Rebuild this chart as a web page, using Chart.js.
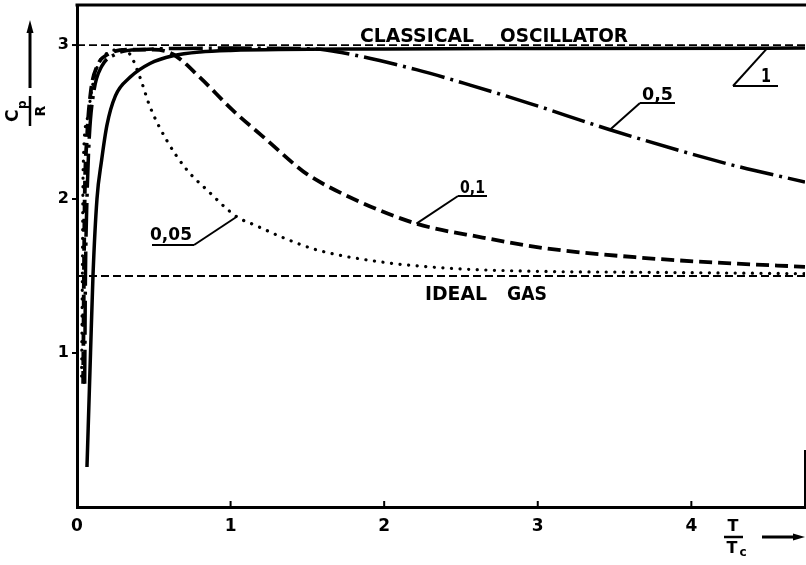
<!DOCTYPE html>
<html>
<head>
<meta charset="utf-8">
<script src="https://cdn.jsdelivr.net/npm/chart.js@4.4.1/dist/chart.umd.min.js"></script>
<style>
  html, body { margin: 0; padding: 0; background: #fff; }
  canvas { display: block; }
</style>
</head>
<body>
<canvas id="c" width="806" height="565"></canvas>
<script>
// Heat capacity Cp/R against reduced temperature T/Tc for several parameter values.
const xMax = 4.74;
const yMax = 3.26;
const xTickValues = [0, 1, 2, 3, 4];
const yTickValues = [1, 2, 3];

const classicalLevel = 3;    // classical oscillator limit
const idealGasLevel = 1.5;   // ideal gas limit

// parameter 0,05 (dotted)
const x005 = [0.03, 0.035, 0.04, 0.065, 0.1, 0.14, 0.2, 0.28, 0.345, 0.41, 0.475, 0.585, 0.715, 0.845, 1.04, 1.16, 1.34, 1.56, 1.99, 2.43, 3.03, 3.6, 4.2, 4.74];
const y005 = [0.85, 1.5, 2.19, 2.51, 2.73, 2.88, 2.95, 2.97, 2.94, 2.79, 2.60, 2.38, 2.19, 2.06, 1.885, 1.83, 1.75, 1.67, 1.59, 1.55, 1.53, 1.525, 1.52, 1.515];

// parameter 0,1 (dashed)
const x01 = [0.04, 0.045, 0.05, 0.065, 0.09, 0.13, 0.2, 0.35, 0.5, 0.625, 0.8, 1.01, 1.24, 1.41, 1.5, 1.78, 2.21, 2.64, 3.05, 3.66, 4.2, 4.74];
const y01 = [0.8, 1.5, 2.0, 2.4, 2.7, 2.86, 2.94, 2.97, 2.97, 2.94, 2.79, 2.58, 2.38, 2.23, 2.16, 2.01, 1.84, 1.75, 1.68, 1.62, 1.585, 1.56];

// parameter 0,5 (dash-dot)
const x05 = [0.05, 0.055, 0.065, 0.08, 0.11, 0.16, 0.25, 0.4, 1.0, 1.55, 1.73, 2.21, 2.56, 2.95, 3.47, 4.23, 4.74];
const y05 = [0.8, 1.5, 2.0, 2.4, 2.7, 2.86, 2.94, 2.97, 2.98, 2.975, 2.95, 2.84, 2.74, 2.62, 2.45, 2.23, 2.11];

// parameter 1 (solid)
const x1 = [0.065, 0.088, 0.104, 0.13, 0.16, 0.195, 0.25, 0.345, 0.475, 0.625, 0.8, 1.0, 2.0, 3.0, 4.74];
const y1 = [0.26, 1.0, 1.5, 2.0, 2.25, 2.48, 2.67, 2.79, 2.88, 2.93, 2.955, 2.965, 2.975, 2.978, 2.98];

const pts = (xs, ys) => xs.map((v, i) => ({ x: v, y: ys[i] }));
const level = v => [{ x: 0, y: v }, { x: xMax, y: v }];

const FONT = '"DejaVu Sans"';

function fitText(ctx, text, left, baseline, width, cap) {
  const size = cap / 0.73;
  ctx.font = `bold ${size}px ${FONT}`;
  const w = ctx.measureText(text).width;
  ctx.save();
  ctx.translate(left, baseline);
  ctx.scale(width / w, 1);
  ctx.textAlign = 'left';
  ctx.textBaseline = 'alphabetic';
  ctx.fillText(text, 0, 0);
  ctx.restore();
}

function seg(ctx, x0, y0, x1_, y1_) {
  ctx.beginPath();
  ctx.moveTo(x0, y0);
  ctx.lineTo(x1_, y1_);
  ctx.stroke();
}

// curve labels: text box (pixels) and the point on the curve the leader touches (data units)
const curveLabels = [
  { text: '0,05', left: 150, baseline: 240, width: 42, cap: 13, ul: [152, 194, 245], from: 'right', at: [1.04, 1.885] },
  { text: '0,1',  left: 460, baseline: 193, width: 25, cap: 13, ul: [458, 487, 196], from: 'left',  at: [2.21, 1.84] },
  { text: '0,5',  left: 642, baseline: 100, width: 31, cap: 13, ul: [640, 675, 103], from: 'left',  at: [3.47, 2.45] },
  { text: '1',    left: 761, baseline: 82,  width: 10, cap: 14, ul: [733, 778, 86],  from: 'left',  at: [4.49, 2.975] }
];

const decor = {
  id: 'decor',
  afterDraw(chart) {
    const { ctx, chartArea: a, scales: { x, y } } = chart;
    ctx.save();
    ctx.strokeStyle = '#000';
    ctx.fillStyle = '#000';
    ctx.lineCap = 'butt';

    // frame: top edge and the short right edge
    ctx.lineWidth = 3;
    seg(ctx, a.left - 1.5, a.top, 806, a.top);
    ctx.lineWidth = 2;
    seg(ctx, a.right, y.getPixelForValue(0.37), a.right, a.bottom);

    // inward ticks on the T/Tc axis, outward ticks on the Cp/R axis
    ctx.lineWidth = 2;
    xTickValues.slice(1).forEach(v => {
      const px = x.getPixelForValue(v);
      seg(ctx, px, a.bottom, px, a.bottom - 6);
    });
    yTickValues.forEach(v => {
      const py = y.getPixelForValue(v);
      seg(ctx, a.left - 5, py, a.left, py);
    });

    // limit captions
    fitText(ctx, 'CLASSICAL', 360, 42, 114, 14);
    fitText(ctx, 'OSCILLATOR', 500, 42, 128, 14);
    fitText(ctx, 'IDEAL', 425, 300, 62, 14);
    fitText(ctx, 'GAS', 507, 300, 40, 14);

    // curve labels with underline and leader
    ctx.lineWidth = 2;
    curveLabels.forEach(l => {
      fitText(ctx, l.text, l.left, l.baseline, l.width, l.cap);
      const [u0, u1, uy] = l.ul;
      seg(ctx, u0, uy, u1, uy);
      const sx = l.from === 'right' ? u1 : u0;
      seg(ctx, sx, uy, x.getPixelForValue(l.at[0]), y.getPixelForValue(l.at[1]));
    });

    // vertical axis title Cp/R with arrow
    ctx.lineWidth = 3;
    seg(ctx, 30, 88, 30, 30);
    ctx.beginPath();
    ctx.moveTo(30, 20); ctx.lineTo(26.5, 33); ctx.lineTo(33.5, 33); ctx.closePath();
    ctx.fill();

    ctx.save();
    ctx.translate(30, 111);
    ctx.rotate(-Math.PI / 2);
    ctx.textBaseline = 'alphabetic';
    ctx.textAlign = 'left';
    ctx.font = `bold 17px ${FONT}`;
    ctx.fillText('C', -11, -12);
    ctx.font = `bold 12px ${FONT}`;
    ctx.fillText('p', 2, -4);
    ctx.lineWidth = 2.5;
    seg(ctx, -15, 0, 15, 0);
    ctx.font = `bold 14px ${FONT}`;
    ctx.textAlign = 'center';
    ctx.fillText('R', 0, 15);
    ctx.restore();

    // horizontal axis title T/Tc with arrow
    ctx.textAlign = 'center';
    ctx.font = `bold 16px ${FONT}`;
    ctx.fillText('T', 733, 531);
    ctx.lineWidth = 2.5;
    seg(ctx, 724, 537, 743, 537);
    ctx.fillText('T', 732, 553);
    ctx.font = `bold 12px ${FONT}`;
    ctx.fillText('c', 743, 556);
    ctx.lineWidth = 3;
    seg(ctx, 762, 537, 795, 537);
    ctx.beginPath();
    ctx.moveTo(805, 537); ctx.lineTo(793, 533.5); ctx.lineTo(793, 540.5); ctx.closePath();
    ctx.fill();

    ctx.restore();
  }
};

const curveBase = {
  pointRadius: 0,
  borderColor: '#000',
  fill: false,
  cubicInterpolationMode: 'monotone'
};

new Chart(document.getElementById('c'), {
  type: 'line',
  data: {
    datasets: [
      { ...curveBase, label: '1', data: pts(x1, y1), borderWidth: 3.5 },
      { ...curveBase, label: '0,5', data: pts(x05, y05), borderWidth: 3.5, borderDash: [34, 6, 3, 6] },
      { ...curveBase, label: '0,1', data: pts(x01, y01), borderWidth: 3.8, borderDash: [13, 6] },
      { ...curveBase, label: '0,05', data: pts(x005, y005), borderWidth: 3.2, borderDash: [0.1, 8.5], borderCapStyle: 'round' },
      { ...curveBase, label: 'classical', data: level(classicalLevel), borderWidth: 1.8, borderDash: [8, 4], cubicInterpolationMode: 'default' },
      { ...curveBase, label: 'ideal', data: level(idealGasLevel), borderWidth: 1.8, borderDash: [8, 4], cubicInterpolationMode: 'default' }
    ]
  },
  options: {
    responsive: false,
    animation: false,
    devicePixelRatio: 1,
    layout: { padding: { left: 0, top: 5, right: 1, bottom: 0 } },
    plugins: { legend: { display: false }, tooltip: { enabled: false } },
    scales: {
      x: {
        type: 'linear',
        min: 0,
        max: xMax,
        afterFit: s => { s.height = 58; s.paddingLeft = 0; s.paddingRight = 0; },
        grid: { display: false, drawTicks: false },
        border: { display: true, width: 3, color: '#000' },
        ticks: {
          stepSize: 1,
          includeBounds: false,
          padding: 9,
          color: '#000',
          font: { family: FONT, size: 17, weight: 'bold' },
          callback: v => (xTickValues.includes(v) ? String(v) : '')
        }
      },
      y: {
        type: 'linear',
        min: 0,
        max: yMax,
        afterFit: s => { s.width = 77; s.paddingTop = 0; s.paddingBottom = 0; },
        grid: { display: false, drawTicks: false },
        border: { display: true, width: 3, color: '#000' },
        ticks: {
          stepSize: 1,
          includeBounds: false,
          padding: 8,
          color: '#000',
          font: { family: FONT, size: 16, weight: 'bold' },
          callback: v => (yTickValues.includes(v) ? String(v) : '')
        }
      }
    }
  },
  plugins: [decor]
});
</script>
</body>
</html>
